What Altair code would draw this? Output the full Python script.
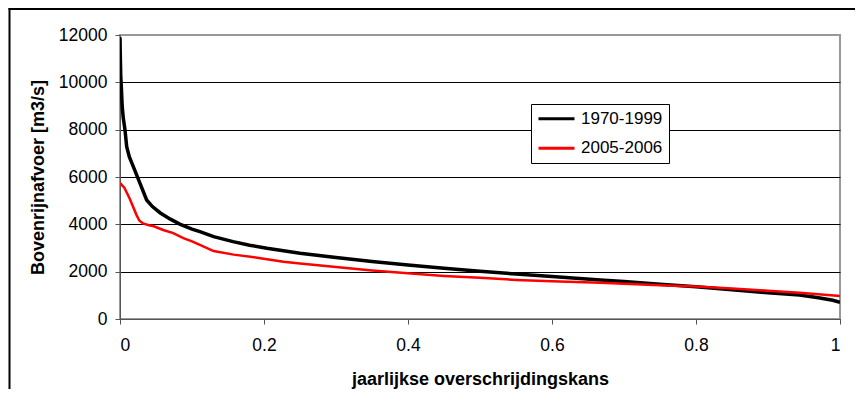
import altair as alt
import pandas as pd

series_names = ["1970-1999", "2005-2006"]

p_1970 = [0, 0.0005, 0.001, 0.002, 0.003, 0.0045, 0.0069, 0.0093, 0.013, 0.0185, 0.0278,
          0.037, 0.045, 0.056, 0.07, 0.083, 0.1, 0.111, 0.13, 0.157, 0.18, 0.204, 0.25,
          0.3, 0.35, 0.4, 0.45, 0.5, 0.55, 0.6, 0.667, 0.7, 0.75, 0.8, 0.85, 0.9, 0.944,
          0.97, 0.99, 1.0]
q_1970 = [11900, 11000, 10300, 9700, 9000, 8500, 8000, 7280, 6850, 6435, 5730,
          5030, 4750, 4480, 4220, 4010, 3800, 3690, 3480, 3270, 3120, 2990, 2780,
          2600, 2430, 2280, 2140, 2020, 1900, 1800, 1650, 1580, 1470, 1365, 1240, 1110, 1015,
          900, 790, 700]

p_2005 = [0, 0.003, 0.006, 0.01, 0.014, 0.018, 0.023, 0.027, 0.032, 0.04, 0.046, 0.06,
          0.074, 0.088, 0.1, 0.111, 0.13, 0.158, 0.195, 0.227, 0.25, 0.3, 0.35, 0.4,
          0.45, 0.5, 0.55, 0.6, 0.667, 0.7, 0.75, 0.8, 0.85, 0.9, 0.944, 1.0]
q_2005 = [5750, 5650, 5550, 5300, 5050, 4750, 4390, 4150, 4040, 3960, 3930, 3760,
          3630, 3420, 3280, 3130, 2870, 2720, 2570, 2420, 2350, 2200, 2050, 1930,
          1820, 1740, 1650, 1590, 1530, 1490, 1430, 1375, 1290, 1195, 1110, 970]

x_ticks = [0, 0.2, 0.4, 0.6, 0.8, 1]
y_ticks = [0, 2000, 4000, 6000, 8000, 10000, 12000]

df_a = pd.DataFrame({"p": p_1970, "q": q_1970, "serie": series_names[0]})
df_b = pd.DataFrame({"p": p_2005, "q": q_2005, "serie": series_names[1]})

FONT = "Liberation Sans"

x_enc = alt.X("p:Q", scale=alt.Scale(domain=[0, 1], nice=False),
              axis=alt.Axis(values=x_ticks, format="~g", grid=False, tickSize=5,
                            labelPadding=12, labelFontSize=17.5, labelColor="black",
                            domainColor="#555555", tickColor="#555555",
                            title="jaarlijkse overschrijdingskans", titleFontSize=18,
                            titleFontWeight="bold", titleColor="black",
                            titleX=360, titleY=60, titleBaseline="middle",
                            titleAlign="center"))
y_enc = alt.Y("q:Q", scale=alt.Scale(domain=[0, 12000], nice=False),
              axis=alt.Axis(values=y_ticks, format="d", grid=True,
                            gridColor={"condition": {"test": "datum.value === 12000", "value": "#999999"},
                                       "value": "black"},
                            gridWidth=1, tickSize=5, labelPadding=8, labelFontSize=17.5,
                            labelColor="black", domainColor="#555555", tickColor="#555555",
                            title="Bovenrijnafvoer [m3/s]", titleFontSize=18,
                            titleFontWeight="bold", titleColor="black",
                            titleAngle=-90, titleX=-82, titleY=142,
                            titleBaseline="middle", titleAlign="center"))
color_enc = alt.Color("serie:N",
                      scale=alt.Scale(domain=series_names, range=["#000000", "#ff0000"]),
                      legend=alt.Legend(title=None, orient="none", legendX=411, legendY=69,
                                        strokeColor="black", fillColor="white", padding=6,
                                        symbolType="stroke", symbolSize=1296,
                                        symbolStrokeWidth=3, labelFontSize=17,
                                        labelOffset=5, rowPadding=10.5, clipHeight=17.5,
                                        labelColor="black", labelFont=FONT))

line_a = alt.Chart(df_a).mark_line(strokeWidth=3.5, clip=True).encode(
    x=x_enc, y=y_enc, color=color_enc)
line_b = alt.Chart(df_b).mark_line(strokeWidth=2.5, clip=True).encode(
    x=x_enc, y=y_enc, color=color_enc)

frame_df = pd.DataFrame({"k": [0]})
frame_left = alt.Chart(frame_df).mark_rule(color="black", strokeWidth=2).encode(
    x=alt.value(-110.5), y=alt.value(-27), y2=alt.value(420))
frame_top = alt.Chart(frame_df).mark_rule(color="black", strokeWidth=2).encode(
    x=alt.value(-111.5), x2=alt.value(900), y=alt.value(-26))

chart = alt.layer(frame_left, frame_top, line_a, line_b).properties(
    width=720, height=284,
    autosize=alt.AutoSizeParams(type="none"),
    padding={"left": 112, "top": 27, "right": 15, "bottom": 70},
).configure(font=FONT).configure_view(stroke="#999999", strokeWidth=2)

chart.save("out.html", embed_options={"renderer": "svg", "actions": False})
